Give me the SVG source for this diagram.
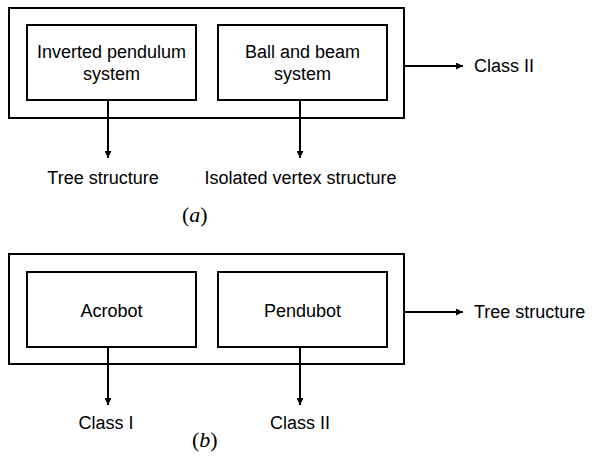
<svg xmlns="http://www.w3.org/2000/svg" width="592" height="462" viewBox="0 0 592 462">
<style>
.box{fill:none;stroke:#000;stroke-width:2}
.t{font-family:"Liberation Sans",Arial,sans-serif;font-size:18px;fill:#000}
.c{text-anchor:middle}
.ln{stroke:#000;stroke-width:2;fill:none}
.lab{font-family:"Liberation Serif","Times New Roman",serif;font-size:22px;fill:#000}
</style>
<defs>
<marker id="ah" viewBox="0 0 10 10" refX="10" refY="5" markerWidth="3.5" markerHeight="3.5" orient="auto" markerUnits="strokeWidth">
<path d="M0,0 L10,5 L0,10 Z" fill="#000"/>
</marker>
</defs>
<rect x="0" y="0" width="592" height="462" fill="#fff"/>
<g id="outer-a"><rect class="box" x="9" y="8" width="395" height="110"/></g>
<g id="node-inverted"><rect class="box" x="27" y="25" width="169" height="75"/>
<text class="t c" x="111.5" y="58">Inverted pendulum</text>
<text class="t c" x="111.5" y="80">system</text></g>
<g id="node-ballbeam"><rect class="box" x="218" y="25" width="169" height="75"/>
<text class="t c" x="302.5" y="58">Ball and beam</text>
<text class="t c" x="302.5" y="80">system</text></g>
<g id="label-tree-a"><text class="t c" x="103" y="184">Tree structure</text></g>
<g id="label-isolated"><text class="t c" x="300.5" y="184">Isolated vertex structure</text></g>
<g id="label-class2-a"><text class="t" x="474" y="72">Class II</text></g>
<g id="cap-a"><text class="lab" x="182" y="222">(<tspan font-style="italic">a</tspan>)</text></g>

<g id="outer-b"><rect class="box" x="9" y="254" width="395" height="110"/></g>
<g id="node-acrobot"><rect class="box" x="27" y="272" width="169" height="75"/>
<text class="t c" x="111.5" y="317">Acrobot</text></g>
<g id="node-pendubot"><rect class="box" x="218" y="272" width="169" height="75"/>
<text class="t c" x="302.5" y="317">Pendubot</text></g>
<g id="label-class1"><text class="t c" x="106" y="429">Class I</text></g>
<g id="label-class2-b"><text class="t c" x="300" y="429">Class II</text></g>
<g id="label-tree-b"><text class="t" x="474" y="318">Tree structure</text></g>
<g id="cap-b"><text class="lab" x="192" y="447">(<tspan font-style="italic">b</tspan>)</text></g>

<g id="connectors">
<line class="ln" x1="108" y1="100" x2="108" y2="158" marker-end="url(#ah)"/>
<line class="ln" x1="300" y1="100" x2="300" y2="158" marker-end="url(#ah)"/>
<line class="ln" x1="404" y1="66" x2="463" y2="66" marker-end="url(#ah)"/>
<line class="ln" x1="108" y1="347" x2="108" y2="405" marker-end="url(#ah)"/>
<line class="ln" x1="300" y1="347" x2="300" y2="405" marker-end="url(#ah)"/>
<line class="ln" x1="404" y1="312" x2="463" y2="312" marker-end="url(#ah)"/>
</g>
</svg>
